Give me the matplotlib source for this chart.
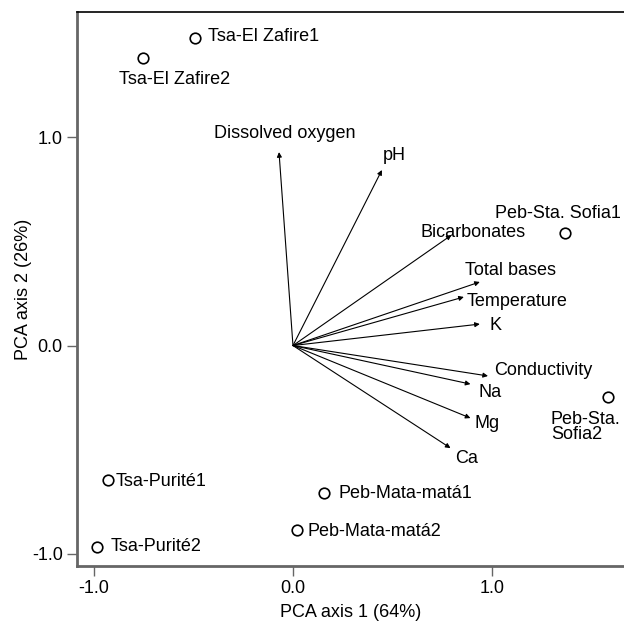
import matplotlib
matplotlib.use("Agg")
import matplotlib.pyplot as plt

plt.rcParams['font.family'] = ['Liberation Sans', 'DejaVu Sans']

# Sites (PCA scores)
site_names = ["Tsa-El Zafire1", "Tsa-El Zafire2", "Peb-Sta. Sofia1", "Peb-Sta.\nSofia2",
              "Tsa-Purité1", "Tsa-Purité2", "Peb-Mata-matá1", "Peb-Mata-matá2"]
site_x = [-0.49, -0.75, 1.363, 1.579, -0.927, -0.982, 0.155, 0.018]
site_y = [1.475, 1.379, 0.54, -0.247, -0.645, -0.966, -0.707, -0.885]
site_lx = [-0.426, -0.872, 1.013, 1.293, -0.887, -0.912, 0.23, 0.075]
site_ly = [1.484, 1.278, 0.631, -0.391, -0.650, -0.962, -0.712, -0.890]

# Variables (loadings)
var_names = ["Dissolved oxygen", "pH", "Bicarbonates", "Total bases", "Temperature",
             "K", "Conductivity", "Na", "Mg", "Ca"]
var_x = [-0.07, 0.446, 0.795, 0.937, 0.857, 0.937, 0.978, 0.89, 0.89, 0.79]
var_y = [0.928, 0.842, 0.530, 0.305, 0.233, 0.103, -0.146, -0.185, -0.348, -0.492]
var_lx = [-0.396, 0.45, 0.638, 0.862, 0.872, 0.985, 1.008, 0.928, 0.912, 0.812]
var_ly = [1.019, 0.914, 0.540, 0.362, 0.209, 0.098, -0.122, -0.223, -0.372, -0.540]

xticks = [-1.0, 0.0, 1.0]
yticks = [-1.0, 0.0, 1.0]

fig = plt.figure(figsize=(6.24, 6.24), dpi=100)
ax = fig.add_axes([77/624, 58/624, 547/624, 554/624])
ax.set_xlim(-1.083, 1.66)
ax.set_ylim(-1.0576, 1.600)

fs = 13
for x, y in zip(var_x, var_y):
    ax.annotate("", xy=(x, y), xytext=(0, 0),
                arrowprops=dict(arrowstyle='-|>', lw=0.8, color='black',
                                mutation_scale=7, shrinkA=0, shrinkB=0))
for name, lx, ly in zip(var_names, var_lx, var_ly):
    ax.text(lx, ly, name, fontsize=fs, ha='left', va='center')

ax.scatter(site_x, site_y, s=58, facecolors='white', edgecolors='black', linewidths=1.2, zorder=3)
for name, lx, ly in zip(site_names, site_lx, site_ly):
    ax.text(lx, ly, name, fontsize=fs, ha='left', va='center', linespacing=0.9)

ax.set_xticks(xticks)
ax.set_yticks(yticks)
ax.set_xticklabels([f"{t:.1f}" for t in xticks], fontsize=fs)
ax.set_yticklabels([f"{t:.1f}" for t in yticks], fontsize=fs)
ax.tick_params(direction='out', length=7.2, width=1, color='#666666', pad=3)
for s in ['left', 'bottom']:
    ax.spines[s].set_color('#666666')
    ax.spines[s].set_linewidth(2)
ax.spines['right'].set_visible(False)
ax.spines['top'].set_color('black')
ax.spines['top'].set_linewidth(1.2)

ax.set_xlabel("PCA axis 1 (64%)", fontsize=fs, labelpad=5)
ax.set_ylabel("PCA axis 2 (26%)", fontsize=fs, labelpad=0)

fig.savefig("out.png", dpi=100)
